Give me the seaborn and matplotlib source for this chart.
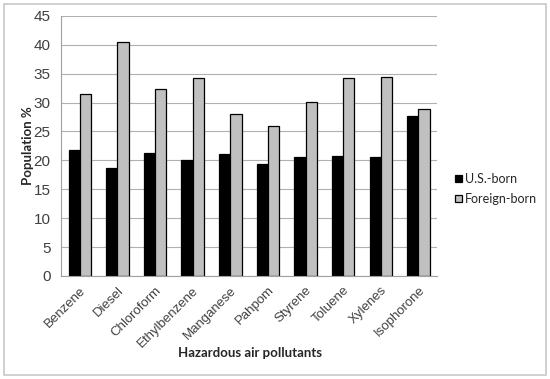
import seaborn as sns
import matplotlib.pyplot as plt
import matplotlib.patches as mpatches
import numpy as np
import pandas as pd

# data
pollutants = ['Benzene', 'Diesel', 'Chloroform', 'Ethylbenzene', 'Manganese',
              'Pahpom', 'Styrene', 'Toluene', 'Xylenes', 'Isophorone']
us_born = [21.8, 18.6, 21.3, 20.1, 21.1, 19.3, 20.5, 20.7, 20.6, 27.7]
foreign_born = [31.5, 40.4, 32.3, 34.2, 28.1, 26.0, 30.1, 34.2, 34.4, 28.9]
groups = ['U.S.-born', 'Foreign-born']

data = pd.DataFrame({
    'pollutant': pollutants * 2,
    'group': [groups[0]] * len(pollutants) + [groups[1]] * len(pollutants),
    'value': us_born + foreign_born,
})

sns.set_style('white')
plt.rcParams['font.family'] = ['Liberation Sans', 'DejaVu Sans']

fig = plt.figure(figsize=(5.5, 3.79), dpi=100)
ax = fig.add_axes([0.111, 0.272, 0.684, 0.686])

sns.barplot(data=data, x='pollutant', y='value', hue='group',
            palette=['#000000', '#c0c0c0'], width=0.6, gap=0,
            edgecolor='black', linewidth=0.9, ax=ax)

ax.set_ylim(0, 45)
ax.set_yticks(np.arange(0, 46, 5))
ax.set_xlim(-0.5, len(pollutants) - 0.5)
ax.yaxis.grid(True, color='#b0b0b0', linewidth=0.8)
ax.set_axisbelow(True)

for s in ['top', 'right']:
    ax.spines[s].set_visible(False)
for s in ['left', 'bottom']:
    ax.spines[s].set_color('#a0a0a0')
    ax.spines[s].set_linewidth(0.8)

ax.set_xticks(np.arange(len(pollutants)))
ax.set_xticklabels(pollutants, rotation=45, ha='right', rotation_mode='anchor',
                   fontsize=9.5, color='#404040')
ax.set_xticks(np.arange(-0.5, len(pollutants), 1), minor=True)
ax.tick_params(axis='x', which='major', length=0, pad=6)
ax.tick_params(axis='x', which='minor', length=4, color='#a0a0a0', width=0.8)
ax.tick_params(axis='y', length=4, color='#a0a0a0', width=0.8,
               labelsize=11, labelcolor='#404040')

ax.set_ylabel('Population %', fontsize=9.5, fontweight='bold', family='Lato')
ax.set_xlabel('Hazardous air pollutants', fontsize=9.5, fontweight='bold',
              family='Lato')
ax.xaxis.set_label_coords(0.503, -0.272)
ax.yaxis.set_label_coords(-0.072, 0.5)

handles, labels = ax.get_legend_handles_labels()
ax.legend(handles, labels, loc='center left', bbox_to_anchor=(1.035, 0.335),
          frameon=False, handlelength=0.5, handleheight=0.5,
          handletextpad=0.25, labelspacing=0.65, borderaxespad=0,
          prop={'family': 'Lato', 'size': 9})

fig.patches.append(mpatches.Rectangle((0.008, 0.01), 0.985, 0.98,
                                      transform=fig.transFigure, fill=False,
                                      edgecolor='#c8c8c8', linewidth=1.2))

plt.savefig('out.png', dpi=100)
